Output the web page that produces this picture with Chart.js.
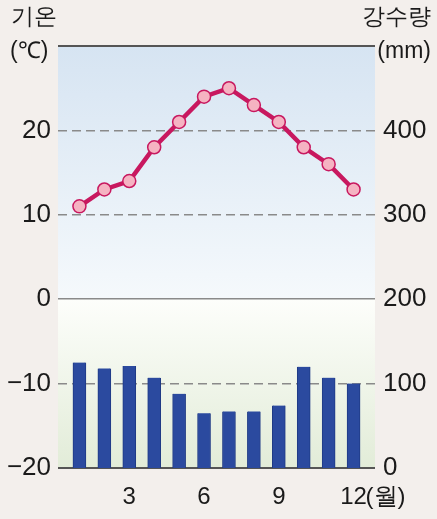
<!DOCTYPE html>
<html><head><meta charset="utf-8">
<script src="https://cdn.jsdelivr.net/npm/chart.js@4/dist/chart.umd.min.js"></script>
<style>html,body{margin:0;padding:0;background:#f3efec;}#wrap{width:437px;height:519px;}</style>
</head><body><div id="wrap"><canvas id="c" width="437" height="519"></canvas></div>
<script>
const months = [1,2,3,4,5,6,7,8,9,10,11,12];
const temperature = [11,13,14,18,21,24,25,23,21,18,16,13];
const precipitation = [125,118,121,107,88,65,67,67,74,120,107,100];
const tempTicks = [-20,-10,0,10,20,30];
const precipTicks = [0,100,200,300,400,500];
const xTickLabels = [3,6,9,12];

const FONT = "'Liberation Sans', Arial, sans-serif";

const bgPlugin = {
  id:'bg',
  beforeDraw(chart){
    const {ctx, chartArea:a, scales} = chart;
    const y = scales.y;
    const y0 = y.getPixelForValue(0);
    ctx.save();
    let g = ctx.createLinearGradient(0,a.top,0,y0);
    g.addColorStop(0,'#d6e4f2'); g.addColorStop(1,'#f5f9fc');
    ctx.fillStyle=g; ctx.fillRect(a.left,a.top,a.right-a.left,y0-a.top);
    g = ctx.createLinearGradient(0,y0,0,a.bottom);
    g.addColorStop(0,'#fdfefb'); g.addColorStop(1,'#e2ecd8');
    ctx.fillStyle=g; ctx.fillRect(a.left,y0,a.right-a.left,a.bottom-y0);
    ctx.restore();
  },
  afterDraw(chart){
    const {ctx, scales} = chart;
    ctx.save();
    ctx.fillStyle='#1a1a1a';
    ctx.textBaseline='middle';
    ctx.font = "23px " + FONT;
    ctx.textAlign='left';
    ctx.fillText('기온', 11, 18);
    ctx.fillText('(℃)', 10, 52);
    ctx.textAlign='right';
    ctx.fillText('강수량', 431, 18);
    ctx.fillText('(mm)', 431, 52);
    const xs = scales.x;
    const px = xs.getPixelForValue(12);
    ctx.textAlign='left';
    ctx.font = "24px " + FONT;
    ctx.fillText('(월)', px + 12, 497);
    ctx.restore();
  }
};

new Chart(document.getElementById('c'), {
  type:'bar',
  data:{
    datasets:[
      {
        type:'line', label:'기온', yAxisID:'y', xAxisID:'x',
        data: months.map((m,i)=>({x:m,y:temperature[i]})),
        borderColor:'#c8185f', borderWidth:4.5,
        pointRadius:6.5, pointBorderWidth:1.5, pointBackgroundColor:'#f5b3c2', pointBorderColor:'#c8185f',
        tension:0, order:0
      },
      {
        type:'bar', label:'강수량', yAxisID:'y1', xAxisID:'x',
        data: months.map((m,i)=>({x:m,y:precipitation[i]})),
        backgroundColor:'#2b4a9f', borderColor:'#1f3a85', borderWidth:{left:1,right:1,top:0,bottom:0},
        barThickness:13, order:1
      }
    ]
  },
  options:{
    responsive:false, animation:false,
    layout:{padding:{top:46,left:0,right:0,bottom:0}},
    plugins:{legend:{display:false}, tooltip:{enabled:false}},
    scales:{
      x:{
        type:'linear', min:0.14, max:12.86, offset:false,
        afterBuildTicks(s){ s.ticks = xTickLabels.map(v=>({value:v})); },
        afterFit(s){ s.height = 51; },
        grid:{display:false, drawTicks:false, offset:false},
        border:{display:false},
        ticks:{font:{family:FONT,size:24}, color:'#1a1a1a', padding:15, maxRotation:0, autoSkip:false,
               callback:(v)=>String(v)}
      },
      y:{
        position:'left', min:-20, max:30,
        afterBuildTicks(s){ s.ticks = tempTicks.map(v=>({value:v})); },
        afterFit(s){ s.width = 58; },
        border:{display:false, dash:(c)=>{const v=c.tick&&c.tick.value; return (v===20||v===10||v===-10)?[9,5]:[];}},
        grid:{
          drawTicks:false,
          color:(c)=>{const v=c.tick&&c.tick.value; return (v===30||v===-20)?'#555555':'#8a8a8a';},
          lineWidth:(c)=>{const v=c.tick&&c.tick.value; return (v===30||v===-20)?2:1.5;}
        },
        ticks:{font:{family:FONT,size:26}, color:'#1a1a1a', padding:7,
               callback:(v)=> v===30 ? '' : (v<0 ? '−'+Math.abs(v) : String(v))}
      },
      y1:{
        position:'right', min:0, max:500,
        afterBuildTicks(s){ s.ticks = precipTicks.map(v=>({value:v})); },
        afterFit(s){ s.width = 62; },
        border:{display:false},
        grid:{display:false, drawTicks:false},
        ticks:{font:{family:FONT,size:26}, color:'#1a1a1a', padding:8,
               callback:(v)=> v===500 ? '' : String(v)}
      }
    }
  },
  plugins:[bgPlugin]
});
</script></body></html>
